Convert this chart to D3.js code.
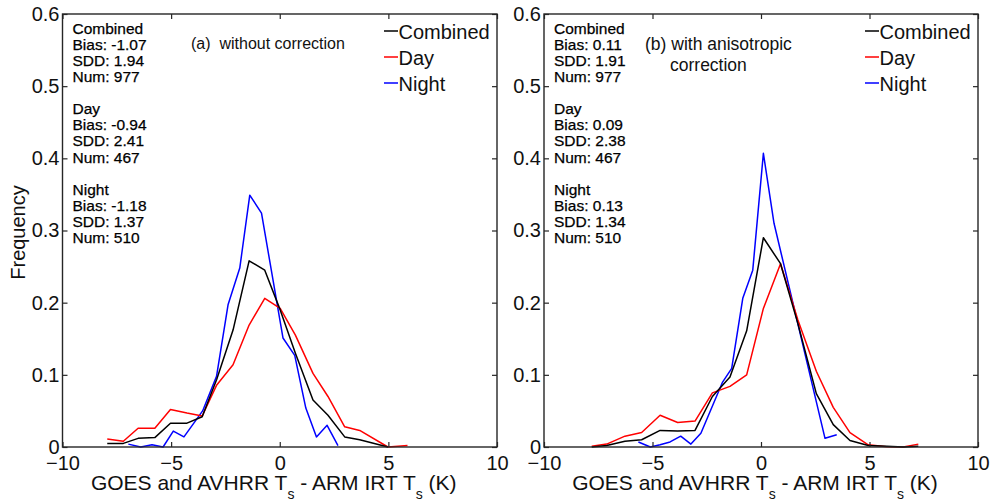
<!DOCTYPE html>
<html>
<head>
<meta charset="utf-8">
<script src="https://cdn.jsdelivr.net/npm/d3@7/dist/d3.min.js"></script>
<style>
  html, body { margin: 0; padding: 0; background: #fff; }
  svg { display: block; font-family: "Liberation Sans", Arial, Helvetica, sans-serif; }
</style>
</head>
<body>
<svg id="chart" width="991" height="502"></svg>
<script>
// Histogram of satellite-minus-ground skin temperature differences (K)

// Panel (a): without correction
const binsA      = [-7.94, -7.2, -6.52, -5.75, -5.03, -4.27, -3.57, -2.9, -2.15, -1.41, -0.69, 0.02, 0.72, 1.53, 2.22, 2.99, 3.68, 4.98, 5.88];
const combinedA  = [0.005, 0.005, 0.012, 0.013, 0.033, 0.033, 0.042, 0.094, 0.162, 0.258, 0.245, 0.19, 0.13, 0.065, 0.044, 0.014, 0.010, 0.0, null];
const dayA       = [0.011, 0.008, 0.026, 0.026, 0.052, 0.047, 0.043, 0.086, 0.114, 0.169, 0.206, 0.192, 0.155, 0.102, 0.07, 0.028, 0.023, 0.0, 0.002];
const nightBinsA = [-6.97, -6.4, -5.88, -5.37, -4.9, -4.41, -3.55, -2.91, -2.38, -1.84, -1.38, -0.84, 0.15, 0.69, 1.2, 1.69, 2.18, 2.68];
const nightA     = [0.004, 0.0, 0.003, 0.0, 0.022, 0.014, 0.05, 0.098, 0.197, 0.248, 0.349, 0.324, 0.151, 0.127, 0.054, 0.014, 0.03, 0.002];

// Panel (b): with anisotropic correction
const binsB      = [-7.8, -7.11, -6.27, -5.5, -4.65, -3.84, -3.04, -2.24, -1.43, -0.66, 0.11, 0.9, 1.7, 2.55, 3.33, 4.1, 4.94, 5.79, 6.56, 7.25];
const combinedB  = [0.0, 0.002, 0.008, 0.010, 0.023, 0.022, 0.023, 0.07, 0.097, 0.161, 0.29, 0.254, 0.171, 0.074, 0.031, 0.009, 0.002, 0.001, 0.0, 0.001];
const dayB       = [0.001, 0.004, 0.015, 0.02, 0.044, 0.034, 0.036, 0.075, 0.084, 0.1, 0.192, 0.254, 0.176, 0.105, 0.055, 0.02, 0.003, 0.0005, 0.0, 0.004];
const nightBinsB = [-5.65, -5.1, -4.65, -4.19, -3.7, -3.23, -2.77, -1.77, -1.35, -0.84, -0.38, 0.11, 0.6, 2.95, 3.49];
const nightB     = [0.007, 0.0, 0.003, 0.007, 0.015, 0.004, 0.019, 0.09, 0.109, 0.206, 0.245, 0.407, 0.31, 0.012, 0.017];

// Axis ticks
const xTicks = [-10, -5, 0, 5, 10];
const yTicks = [0, 0.1, 0.2, 0.3, 0.4, 0.5, 0.6];

// Legend and statistics text
const seriesNames  = ["Combined", "Day", "Night"];
const seriesColors = ["#000000", "#ff0000", "#0000ff"];
const statsA = [
  ["Combined", "Bias: -1.07", "SDD: 1.94", "Num: 977"],
  ["Day", "Bias: -0.94", "SDD: 2.41", "Num: 467"],
  ["Night", "Bias: -1.18", "SDD: 1.37", "Num: 510"]
];
const statsB = [
  ["Combined", "Bias: 0.11", "SDD: 1.91", "Num: 977"],
  ["Day", "Bias: 0.09", "SDD: 2.38", "Num: 467"],
  ["Night", "Bias: 0.13", "SDD: 1.34", "Num: 510"]
];
const titleA = ["(a)  without correction"];
const titleB = ["(b) with anisotropic", "correction"];

const svg = d3.select("#chart");
const plotTop = 14, plotBottom = 447;

const panels = [
  { left: 62.5, right: 497, bins: binsA, comb: combinedA, day: dayA, nBins: nightBinsA, night: nightA,
    stats: statsA, title: titleA, titleX: [191], titleY: [49], titleSize: 16, legendX: 384, yLabel: true },
  { left: 544, right: 978, bins: binsB, comb: combinedB, day: dayB, nBins: nightBinsB, night: nightB,
    stats: statsB, title: titleB, titleX: [645, 670], titleY: [50, 71], titleSize: 17.5, legendX: 865, yLabel: false }
];

panels.forEach(p => {
  const x = d3.scaleLinear().domain([-10, 10]).range([p.left, p.right]);
  const y = d3.scaleLinear().domain([0, 0.6]).range([plotBottom, plotTop]);
  const g = svg.append("g");

  // Series lines
  const line = d3.line()
    .defined(d => d[1] !== null)
    .x(d => x(d[0])).y(d => y(d[1]));
  const sets = [
    [d3.zip(p.bins, p.comb), seriesColors[0]],
    [d3.zip(p.bins, p.day), seriesColors[1]],
    [d3.zip(p.nBins, p.night), seriesColors[2]]
  ];
  // combined drawn last so it sits on top
  [sets[2], sets[1], sets[0]].forEach(([data, color]) => {
    g.append("path").datum(data)
      .attr("d", line)
      .attr("fill", "none")
      .attr("stroke", color)
      .attr("stroke-width", 1.5)
      .attr("stroke-linejoin", "round");
  });

  // Frame
  g.append("rect")
    .attr("x", p.left).attr("y", plotTop)
    .attr("width", p.right - p.left).attr("height", plotBottom - plotTop)
    .attr("fill", "none").attr("stroke", "#262626").attr("stroke-width", 1.4);

  // Axes with inward ticks
  const tickLen = 5;
  const axB = d3.axisBottom(x).tickValues(xTicks).tickSize(-tickLen).tickPadding(9).tickFormat(d3.format("d"));
  const axT = d3.axisTop(x).tickValues(xTicks).tickSize(-tickLen).tickFormat("");
  const axL = d3.axisLeft(y).tickValues(yTicks).tickSize(-tickLen).tickPadding(3).tickFormat(d => d === 0 ? "0" : d3.format(".1f")(d));
  const axR = d3.axisRight(y).tickValues(yTicks).tickSize(-tickLen).tickFormat("");

  [[axB, `translate(0,${plotBottom})`], [axT, `translate(0,${plotTop})`],
   [axL, `translate(${p.left},0)`], [axR, `translate(${p.right},0)`]].forEach(([ax, tr]) => {
    const a = g.append("g").attr("transform", tr).call(ax);
    a.select(".domain").remove();
    a.selectAll(".tick line").attr("stroke", "#262626").attr("stroke-width", 1.2);
    a.selectAll(".tick text").attr("fill", "#111").attr("font-size", 20)
      .attr("font-family", "Liberation Sans, Arial, sans-serif");
  });

  // X axis title with subscripts
  const xt = g.append("text")
    .attr("x", (p.left + p.right) / 2 - 6).attr("y", 489.5)
    .attr("text-anchor", "middle").attr("font-size", 21).attr("fill", "#111");
  xt.append("tspan").text("GOES and AVHRR T");
  xt.append("tspan").attr("dy", 9).attr("font-size", 14).text("s");
  xt.append("tspan").attr("dy", -9).text(" - ARM IRT T");
  xt.append("tspan").attr("dy", 9).attr("font-size", 14).text("s");
  xt.append("tspan").attr("dy", -9).text(" (K)");

  if (p.yLabel) {
    g.append("text")
      .attr("transform", `translate(24.5,${(plotTop + plotBottom) / 2 + 2}) rotate(-90)`)
      .attr("text-anchor", "middle").attr("font-size", 20).attr("fill", "#111")
      .text("Frequency");
  }

  // Statistics block
  p.stats.forEach((group, gi) => {
    group.forEach((s, li) => {
      g.append("text")
        .attr("x", p.left + 10).attr("y", 33.5 + gi * 80.5 + li * 16.2)
        .attr("font-size", 15.5).attr("fill", "#000")
        .attr("stroke", "#000").attr("stroke-width", 0.25)
        .text(s);
    });
  });

  // Panel title
  p.title.forEach((t, i) => {
    g.append("text")
      .attr("x", p.titleX[i]).attr("y", p.titleY[i])
      .attr("font-size", p.titleSize).attr("fill", "#111")
      .style("white-space", "pre")
      .text(t);
  });

  // Legend
  seriesNames.forEach((name, i) => {
    const ly = 31 + i * 26;
    g.append("line")
      .attr("x1", p.legendX).attr("x2", p.legendX + 14)
      .attr("y1", ly).attr("y2", ly)
      .attr("stroke", seriesColors[i]).attr("stroke-width", 1.5);
    g.append("text")
      .attr("x", p.legendX + 14.5).attr("y", ly + 7.5)
      .attr("font-size", 20).attr("fill", "#111")
      .text(name);
  });
});
</script>
</body>
</html>
